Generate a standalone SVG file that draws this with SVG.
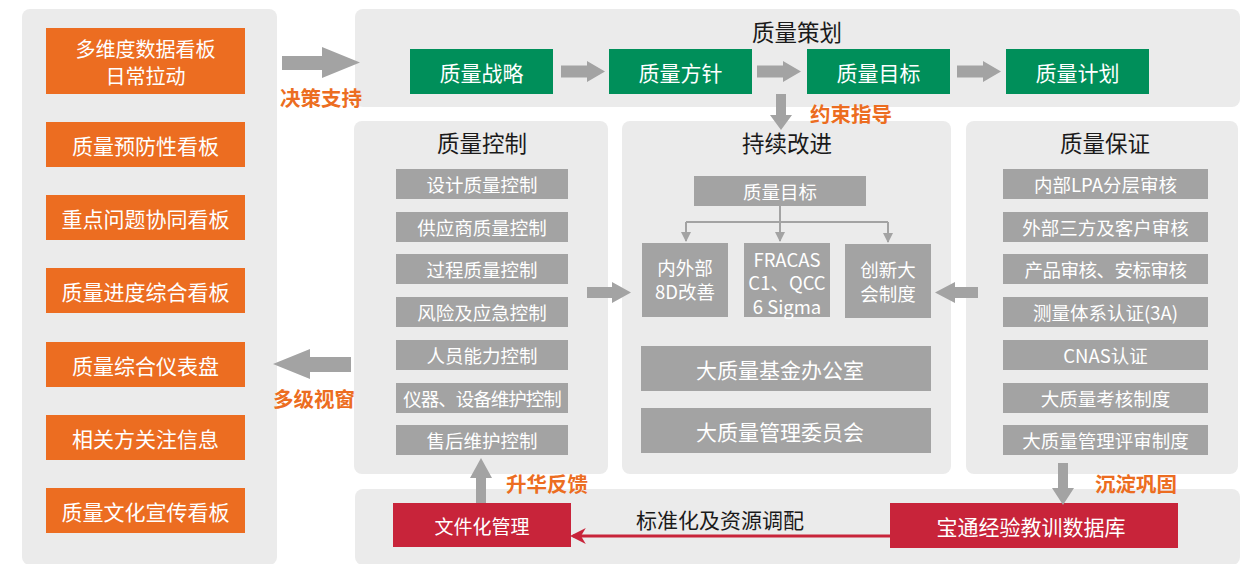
<svg xmlns="http://www.w3.org/2000/svg" width="1251" height="564" viewBox="0 0 1251 564">
<defs>
<style>
text{font-family:"Noto Sans CJK SC","Noto Sans",sans-serif;text-anchor:middle;dominant-baseline:central}
.panel{fill:#EBEBEB}
.org{fill:#EC6D21}
.grn{fill:#008F5A}
.gry{fill:#A3A3A3}
.red{fill:#C8243A}
.arr{fill:#A3A3A3}
.wt{fill:#FFFFFF}
.t21{font-size:21px}
.t20{font-size:20px}
.t19{font-size:19px}
.t18{font-size:18.5px}
.ttl{font-size:22.5px;fill:#1A1A1A}
.lbl{font-size:20.5px;font-weight:bold;fill:#EC6D21}
.blk{font-size:21px;fill:#1A1A1A}
</style>
<marker id="ah" viewBox="0 0 10 10" refX="9" refY="5" markerWidth="5" markerHeight="5" orient="auto"><path d="M0,0 L10,5 L0,10 z" fill="#A3A3A3"/></marker>
<marker id="rh" viewBox="0 0 10 10" refX="8" refY="5" markerWidth="16" markerHeight="16" markerUnits="userSpaceOnUse" orient="auto"><path d="M0,0 L10,5 L0,10 L3,5 z" fill="#C8243A"/></marker>
</defs>

<g id="panels">
<rect class="panel" x="22" y="9" width="255" height="556" rx="8"/>
<rect class="panel" x="355" y="9" width="885" height="98" rx="8"/>
<rect class="panel" x="354" y="121" width="254" height="353" rx="8"/>
<rect class="panel" x="622" y="121" width="329" height="353" rx="8"/>
<rect class="panel" x="966" y="121" width="272" height="353" rx="8"/>
<rect class="panel" x="355" y="489" width="885" height="76" rx="8"/>
</g>

<g id="dashboards">
<g id="d1"><rect class="org" x="46" y="28" width="199" height="66"/><text class="wt t20" x="145.5" y="48">多维度数据看板<tspan x="145.5" dy="26.5">日常拉动</tspan></text></g>
<g id="d2"><rect class="org" x="46" y="122" width="199" height="45"/><text class="wt t21" x="145.5" y="144.5">质量预防性看板</text></g>
<g id="d3"><rect class="org" x="46" y="195" width="199" height="45"/><text class="wt t21" x="145.5" y="217.5">重点问题协同看板</text></g>
<g id="d4"><rect class="org" x="46" y="268" width="199" height="45"/><text class="wt t21" x="145.5" y="290.5">质量进度综合看板</text></g>
<g id="d5"><rect class="org" x="46" y="342" width="199" height="45"/><text class="wt t21" x="145.5" y="364.5">质量综合仪表盘</text></g>
<g id="d6"><rect class="org" x="46" y="415" width="199" height="45"/><text class="wt t21" x="145.5" y="437.5">相关方关注信息</text></g>
<g id="d7"><rect class="org" x="46" y="488" width="199" height="45"/><text class="wt t21" x="145.5" y="510.5">质量文化宣传看板</text></g>
</g>

<g id="planning">
<text class="ttl" x="797" y="31">质量策划</text>
<g id="p1"><rect class="grn" x="410" y="49" width="143" height="45"/><text class="wt t21" x="481.5" y="71.5">质量战略</text></g>
<g id="p2"><rect class="grn" x="609" y="49" width="143" height="45"/><text class="wt t21" x="680.5" y="71.5">质量方针</text></g>
<g id="p3"><rect class="grn" x="807" y="49" width="143" height="45"/><text class="wt t21" x="878.5" y="71.5">质量目标</text></g>
<g id="p4"><rect class="grn" x="1006" y="49" width="143" height="45"/><text class="wt t21" x="1077.5" y="71.5">质量计划</text></g>
</g>

<g id="control">
<text class="ttl" x="482" y="142">质量控制</text>
<g id="c1"><rect class="gry" x="396" y="169" width="172" height="30"/><text class="wt t18" x="482" y="184">设计质量控制</text></g>
<g id="c2"><rect class="gry" x="396" y="212" width="172" height="30"/><text class="wt t18" x="482" y="227">供应商质量控制</text></g>
<g id="c3"><rect class="gry" x="396" y="254" width="172" height="30"/><text class="wt t18" x="482" y="269">过程质量控制</text></g>
<g id="c4"><rect class="gry" x="396" y="297" width="172" height="30"/><text class="wt t18" x="482" y="312">风险及应急控制</text></g>
<g id="c5"><rect class="gry" x="396" y="340" width="172" height="30"/><text class="wt t18" x="482" y="355">人员能力控制</text></g>
<g id="c6"><rect class="gry" x="396" y="383" width="172" height="30"/><text class="wt t18" x="482" y="398" letter-spacing="-1">仪器、设备维护控制</text></g>
<g id="c7"><rect class="gry" x="396" y="425" width="172" height="30"/><text class="wt t18" x="482" y="440">售后维护控制</text></g>
</g>

<g id="improvement">
<text class="ttl" x="787" y="142">持续改进</text>
<g id="i0"><rect class="gry" x="694" y="176" width="172" height="30"/><text class="wt t18" x="780" y="191">质量目标</text></g>
<g id="i1"><rect class="gry" x="642" y="243" width="86" height="74"/><text class="wt t18" x="685" y="267">内外部<tspan x="685" dy="24">8D改善</tspan></text></g>
<g id="i2"><rect class="gry" x="744" y="243" width="86" height="74"/><text class="wt t18" x="787" y="258.5">FRACAS<tspan x="787" dy="23.7">C1、QCC</tspan><tspan x="787" dy="23.7">6 Sigma</tspan></text></g>
<g id="i3"><rect class="gry" x="845" y="244" width="86" height="74"/><text class="wt t18" x="888" y="269">创新大<tspan x="888" dy="24">会制度</tspan></text></g>
<g id="i4"><rect class="gry" x="641" y="346" width="290" height="45"/><text class="wt t21" x="780" y="368.5">大质量基金办公室</text></g>
<g id="i5"><rect class="gry" x="641" y="408" width="290" height="45"/><text class="wt t21" x="780" y="430.5">大质量管理委员会</text></g>
</g>

<g id="assurance">
<text class="ttl" x="1105" y="142">质量保证</text>
<g id="a1"><rect class="gry" x="1003" y="169" width="205" height="30"/><text class="wt t18" x="1105.5" y="184">内部LPA分层审核</text></g>
<g id="a2"><rect class="gry" x="1003" y="212" width="205" height="30"/><text class="wt t18" x="1105.5" y="227">外部三方及客户审核</text></g>
<g id="a3"><rect class="gry" x="1003" y="254" width="205" height="30"/><text class="wt t18" x="1105.5" y="269" letter-spacing="-0.5">产品审核、安标审核</text></g>
<g id="a4"><rect class="gry" x="1003" y="297" width="205" height="30"/><text class="wt t18" x="1105.5" y="312">测量体系认证(3A)</text></g>
<g id="a5"><rect class="gry" x="1003" y="340" width="205" height="30"/><text class="wt t18" x="1105.5" y="355">CNAS认证</text></g>
<g id="a6"><rect class="gry" x="1003" y="383" width="205" height="30"/><text class="wt t18" x="1105.5" y="398">大质量考核制度</text></g>
<g id="a7"><rect class="gry" x="1003" y="425" width="205" height="30"/><text class="wt t18" x="1105.5" y="440">大质量管理评审制度</text></g>
</g>

<g id="bottom">
<g id="b1"><rect class="red" x="393" y="503" width="178" height="44"/><text class="wt t19" x="482" y="525">文件化管理</text></g>
<g id="b2"><rect class="red" x="890" y="503" width="288" height="45"/><text class="wt t21" x="1031" y="525.5">宝通经验教训数据库</text></g>
</g>

<g id="connectors">
<polygon class="arr" points="282,56 322,56 322,47 360,62.5 322,78 322,70 282,70"/>
<polygon class="arr" points="561,65.5 587,65.5 587,61 605,71.5 587,82 587,77.5 561,77.5"/>
<polygon class="arr" points="757,65.5 783,65.5 783,61 801,71.5 783,82 783,77.5 757,77.5"/>
<polygon class="arr" points="957,65.5 983,65.5 983,61 1001,71.5 983,82 983,77.5 957,77.5"/>
<polygon class="arr" points="776,94 786,94 786,115 792,115 781,130 770,115 776,115"/>
<polygon class="arr" points="587,287 612,287 612,282 631,292.5 612,303 612,298 587,298"/>
<polygon class="arr" points="978,287 955,287 955,282 935,292.5 955,303 955,298 978,298"/>
<polygon class="arr" points="351,357 310,357 310,349 273,364 310,379 310,372 351,372"/>
<polygon class="arr" points="476,503 476,478 470,478 481,458 492,478 486,478 486,503"/>
<polygon class="arr" points="1058,463 1068,463 1068,488 1074,488 1063,505 1052,488 1058,488"/>
<path d="M780,206 V222 M686,222 H888" fill="none" stroke="#A3A3A3" stroke-width="2"/>
<path d="M686,222 V241" fill="none" stroke="#A3A3A3" stroke-width="2" marker-end="url(#ah)"/>
<path d="M780,222 V241" fill="none" stroke="#A3A3A3" stroke-width="2" marker-end="url(#ah)"/>
<path d="M888,222 V242" fill="none" stroke="#A3A3A3" stroke-width="2" marker-end="url(#ah)"/>
<line x1="890" y1="536" x2="573" y2="536" stroke="#C8243A" stroke-width="3" marker-end="url(#rh)"/>
</g>

<g id="labels">
<text class="lbl" x="321" y="97">决策支持</text>
<text class="lbl" x="851" y="113">约束指导</text>
<text class="lbl" x="314" y="398">多级视窗</text>
<text class="lbl" x="547" y="483">升华反馈</text>
<text class="lbl" x="1136" y="483">沉淀巩固</text>
<text class="blk" x="720" y="519">标准化及资源调配</text>
</g>
</svg>
